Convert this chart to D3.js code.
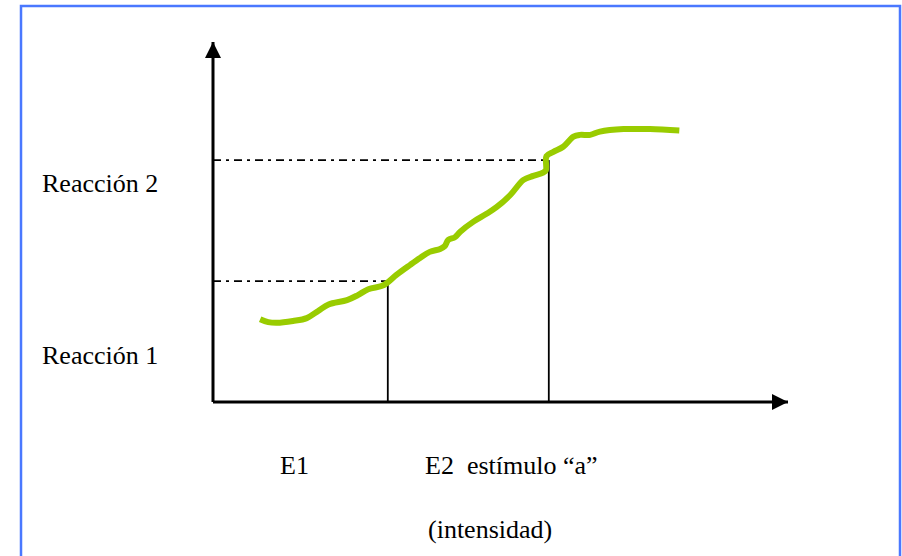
<!DOCTYPE html>
<html lang="es">
<head>
<meta charset="UTF-8"/>
<title>Reacción vs estímulo</title>
<script src="https://d3js.org/d3.v7.min.js"></script>
<style>
    body { margin: 0; background: #fff; }
</style>
</head>
<body>
<div id="chart"></div>
<script>
// curve points (x = estímulo, y = reacción), 0..100 units
const curveX = [8.2, 9.6, 11.1, 13.9, 16.3, 18.3, 20.1, 23.3, 25.2, 27.0, 29.3, 30.2, 31.9, 34.3, 36.0, 37.7, 39.5, 40.3, 40.9, 42.1, 43.0, 45.3, 47.5, 49.3, 51.7, 54.0, 55.7, 57.4, 57.9, 58.0, 59.2, 60.9, 62.7, 63.8, 65.6, 67.3, 71.4, 76.0, 81.1];
const curveY = [23.0, 22.2, 22.0, 22.5, 23.3, 25.3, 27.1, 28.3, 29.7, 31.3, 32.2, 33.0, 35.3, 38.1, 40.0, 41.7, 42.5, 43.3, 45.0, 45.8, 47.3, 50.1, 52.2, 54.1, 57.5, 61.7, 62.8, 63.7, 64.4, 68.3, 69.5, 70.9, 73.7, 74.2, 74.2, 75.1, 75.8, 75.8, 75.4];

// stimulus marks and reaction levels
const stimuli = [30.4, 58.4];
const stimulusLabels = ["E1", "E2  estímulo “a”"];
const reactions = [33.6, 67.2];
const reactionLabels = ["Reacción 1", "Reacción 2"];

const W = 902, H = 556;
const FONT = "'Liberation Serif', 'Times New Roman', 'DejaVu Serif', serif";
const x = d3.scaleLinear().domain([0, 100]).range([213, 788]);
const y = d3.scaleLinear().domain([0, 100]).range([402, 42]);

const svg = d3.select("#chart").append("svg")
    .attr("width", W).attr("height", H);

// frame
svg.append("path")
    .attr("d", "M21," + (H + 5) + "V6H900V" + (H + 5))
    .attr("fill", "none")
    .attr("stroke", "#4a78ff")
    .attr("stroke-width", 2.5);

const defs = svg.append("defs");
defs.append("marker")
    .attr("id", "arrow")
    .attr("viewBox", "0 0 10 10")
    .attr("refX", 10).attr("refY", 5)
    .attr("markerUnits", "userSpaceOnUse")
    .attr("markerWidth", 16).attr("markerHeight", 16)
    .attr("orient", "auto")
    .append("path").attr("d", "M0,0L10,5L0,10Z").attr("fill", "#000");

// axes
svg.append("line")
    .attr("x1", x(0)).attr("y1", y(0)).attr("x2", x(0)).attr("y2", y(100))
    .attr("stroke", "#000").attr("stroke-width", 3)
    .attr("marker-end", "url(#arrow)");
svg.append("line")
    .attr("x1", x(0)).attr("y1", y(0)).attr("x2", x(100)).attr("y2", y(0))
    .attr("stroke", "#000").attr("stroke-width", 3)
    .attr("marker-end", "url(#arrow)");

// dash-dot guides to each reaction level
svg.selectAll(".guide")
    .data(d3.zip(stimuli, reactions))
    .join("line")
    .attr("x1", x(0)).attr("x2", d => x(d[0]))
    .attr("y1", d => y(d[1])).attr("y2", d => y(d[1]))
    .attr("stroke", "#000").attr("stroke-width", 1.8)
    .attr("stroke-dasharray", "8,5,3,5");

// vertical lines at stimuli
svg.selectAll(".stim")
    .data(d3.zip(stimuli, reactions))
    .join("line")
    .attr("x1", d => x(d[0])).attr("x2", d => x(d[0]))
    .attr("y1", y(0)).attr("y2", d => y(d[1]))
    .attr("stroke", "#000").attr("stroke-width", 1.8);

// curve
svg.append("path")
    .datum(d3.zip(curveX, curveY))
    .attr("fill", "none")
    .attr("stroke", "#99cc00")
    .attr("stroke-width", 6)
    .attr("stroke-linejoin", "round")
    .attr("d", d3.line()
        .x(d => x(d[0]))
        .y(d => y(d[1]))
        .curve(d3.curveCatmullRom));

// labels
function label(px, py, s) {
    svg.append("text")
        .attr("x", px).attr("y", py)
        .attr("font-family", FONT)
        .attr("font-size", 26)
        .attr("fill", "#000")
        .style("white-space", "pre")
        .text(s);
}
label(42, 192, reactionLabels[1]);
label(42, 364, reactionLabels[0]);
label(280, 474, stimulusLabels[0]);
label(425, 474, stimulusLabels[1]);
label(428, 538, "(intensidad)");
</script>
</body>
</html>
